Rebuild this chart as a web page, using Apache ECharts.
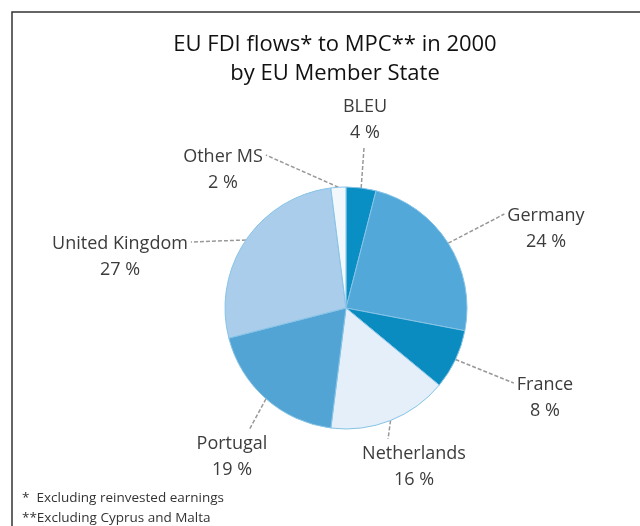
<!DOCTYPE html>
<html><head><meta charset="utf-8">
<script src="https://cdn.jsdelivr.net/npm/echarts@6/dist/echarts.min.js"></script>
<style>html,body{margin:0;padding:0;background:#fff}#c{width:640px;height:526px}</style>
</head><body><div id="c"></div>
<script>
const categories = ['BLEU', 'Germany', 'France', 'Netherlands', 'Portugal', 'United Kingdom', 'Other MS'];
const shares = [4, 24, 8, 16, 19, 27, 2];
const sliceColors = ['#0a8fc4', '#52a8d8', '#0b8cc1', '#e4eff9', '#52a4d5', '#a9cdeb', '#f3f8fc'];
const labelAnchors = [[365, 120], [546, 229], [545, 398], [414, 467], [232, 457], [120, 257], [223, 170]];
const labelSides = ['top', 'right', 'right', 'bottom', 'bottom', 'left', 'left'];

const chart = echarts.init(document.getElementById('c'), null, {renderer: 'canvas'});
const fontFam = 'Open Sans, Lato, sans-serif';
const CX = 346, CY = 308, R = 121;
const total = shares.reduce((a, b) => a + b, 0);
chart.setOption({
  animation: false,
  title: {
    text: 'EU FDI flows* to MPC** in 2000\nby EU Member State',
    left: 330, top: 25, textAlign: 'center',
    textStyle: {fontFamily: fontFam, fontSize: 22, fontWeight: 'normal', color: '#111', lineHeight: 29}
  },
  graphic: [
    {type: 'rect', shape: {x: 12, y: 12, width: 700, height: 600}, style: {fill: 'none', stroke: '#333', lineWidth: 1.5}, silent: true},
    {type: 'text', left: 22, top: 488, style: {text: '*  Excluding reinvested earnings\n**Excluding Cyprus and Malta', font: '13.5px ' + fontFam, fill: '#333', lineHeight: 20}}
  ],
  series: [{
    type: 'pie',
    center: [CX, CY],
    radius: R,
    startAngle: 90,
    clockwise: true,
    data: categories.map((n, i) => ({name: n, value: shares[i], itemStyle: {color: sliceColors[i]}})),
    itemStyle: {borderColor: '#86c3e6', borderWidth: 1},
    label: {
      show: true, position: 'outside', formatter: '{b}\n{c} %',
      fontFamily: fontFam, fontSize: 18, fontWeight: 'normal', color: '#3c3c3c', lineHeight: 26, align: 'center'
    },
    labelLine: {show: true, length: 10, length2: 10, lineStyle: {color: '#999', type: [4, 2], width: 1.5}},
    labelLayout: function (p) {
      const i = p.dataIndex;
      const a = labelAnchors[i];
      const w = p.labelRect.width, h = p.labelRect.height;
      let before = 0;
      for (let k = 0; k < i; k++) before += shares[k];
      const mid = (before + shares[i] / 2) / total * Math.PI * 2;
      const start = [CX + R * Math.sin(mid), CY - R * Math.cos(mid)];
      let end;
      const side = labelSides[i];
      if (side === 'right') end = [a[0] - w / 2 - 3, a[1] - h / 4 - 2];
      else if (side === 'left') end = [a[0] + w / 2 + 3, a[1] - h / 4 - 2];
      else if (side === 'top') end = [a[0] - 1, a[1] + h / 2 + 2];
      else end = [a[0] + (start[0] < a[0] ? -w / 4 : w / 4), a[1] - h / 2 - 2];
      return {x: a[0], y: a[1], align: 'center', verticalAlign: 'middle', labelLinePoints: [start, end]};
    }
  }]
});
</script></body></html>
